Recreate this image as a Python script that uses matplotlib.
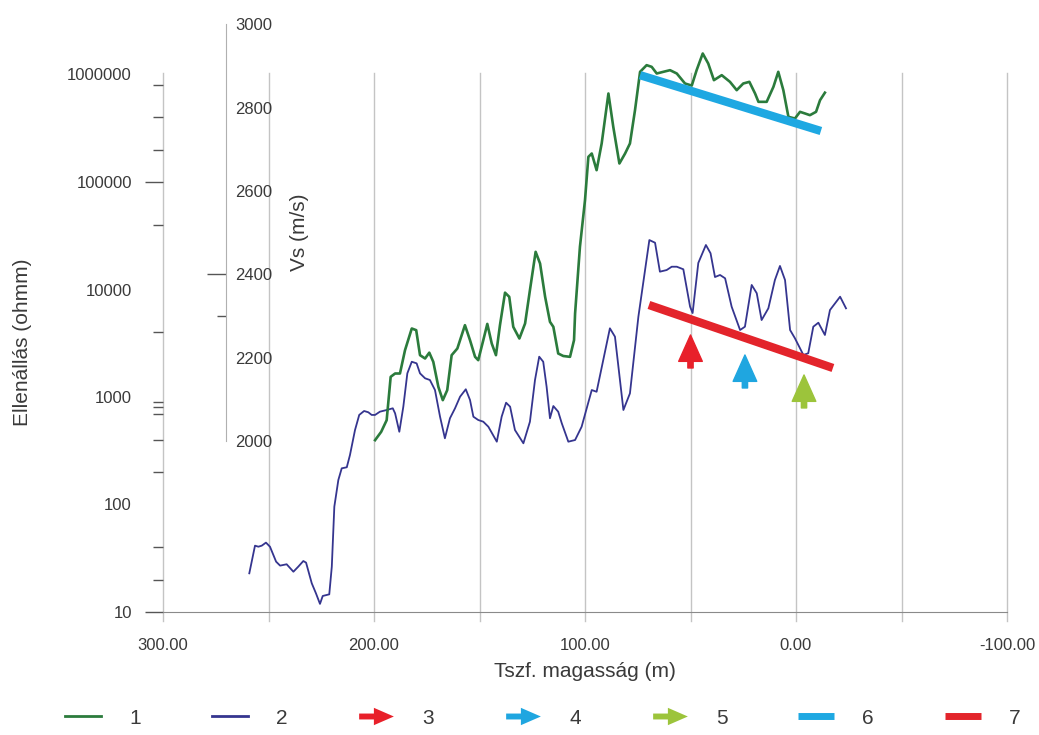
import matplotlib.pyplot as plt
from matplotlib.lines import Line2D
from matplotlib.path import Path
from matplotlib.ticker import NullFormatter

plt.rcParams['font.family'] = ['Liberation Sans', 'DejaVu Sans']
TXT = '#3a3a3a'

# 1: Vs (m/s) vs. elevation
vs_elev = [199.5, 196.6, 194.0, 192.1, 190.0, 187.7, 185.3, 182.1, 180.0, 178.2,
           175.8, 173.8, 171.9, 169.5, 167.4, 165.3, 163.2, 160.5, 156.9, 154.5,
           152.1, 150.6, 148.2, 146.3, 144.2, 142.2, 140.3, 137.9, 135.9, 134.0,
           131.1, 128.4, 126.1, 123.4, 121.3, 118.9, 116.6, 115.0, 112.7, 110.3,
           107.1, 105.2, 104.7, 102.4, 100.0, 98.4, 96.8, 94.5, 92.1, 88.9,
           86.6, 83.7, 81.0, 78.7, 76.3, 73.9, 70.8, 68.4, 66.0, 62.9,
           59.7, 56.5, 52.6, 49.4, 47.1, 44.2, 41.6, 38.9, 35.2, 31.3,
           28.1, 25.0, 22.1, 19.4, 17.8, 13.9, 10.7, 8.4, 6.0, 3.6,
           0.5, -1.9, -4.3, -6.6, -9.5, -11.4, -13.7]
vs_vals = [2002, 2022, 2050, 2154, 2162, 2162, 2218, 2270, 2266, 2206,
           2198, 2212, 2190, 2130, 2098, 2122, 2206, 2222, 2278, 2242,
           2202, 2194, 2242, 2281, 2234, 2206, 2278, 2356, 2346, 2274,
           2246, 2282, 2362, 2454, 2426, 2346, 2286, 2274, 2210, 2204,
           2202, 2242, 2306, 2466, 2578, 2682, 2690, 2650, 2714, 2834,
           2754, 2666, 2690, 2714, 2794, 2886, 2902, 2898, 2882, 2886,
           2890, 2882, 2858, 2853, 2890, 2930, 2906, 2866, 2878, 2862,
           2842, 2858, 2862, 2834, 2814, 2814, 2850, 2886, 2842, 2778,
           2774, 2790, 2786, 2782, 2790, 2818, 2836]

# 2: resistivity (ohmm) vs. elevation
res_elev = [259.1, 256.4, 254.8, 253.2, 251.2, 249.3, 246.4, 244.5, 241.4, 238.2,
            235.9, 233.5, 232.2, 229.5, 227.5, 225.6, 224.3, 221.2, 220.0, 218.8,
            216.9, 215.3, 212.9, 211.4, 209.0, 207.0, 204.7, 202.7, 201.1, 199.5,
            197.2, 194.0, 191.1, 190.0, 188.0, 186.1, 184.2, 182.1, 179.8, 178.2,
            175.8, 173.5, 171.1, 168.7, 166.4, 164.0, 161.6, 159.2, 156.5, 154.5,
            152.9, 150.6, 148.2, 145.8, 141.8, 139.5, 137.4, 135.5, 133.2, 129.2,
            126.1, 123.7, 121.7, 119.8, 118.2, 116.6, 115.0, 112.7, 111.0, 107.9,
            104.7, 101.6, 96.8, 94.5, 88.2, 85.8, 81.8, 78.7, 74.7, 69.5,
            66.8, 64.5, 61.3, 58.9, 56.5, 53.4, 50.2, 49.0, 46.3, 42.7,
            40.5, 38.4, 36.0, 33.6, 30.5, 26.5, 24.2, 21.0, 18.6, 16.3,
            13.1, 10.0, 7.6, 5.2, 2.8, 0.5, -3.5, -5.8, -8.2, -10.6,
            -13.7, -16.1, -20.9, -23.7]
res_vals = [22.9, 41.4, 40.5, 41.4, 44.2, 40.5, 29.4, 27.0, 27.8, 23.7,
            26.4, 29.8, 28.8, 18.5, 14.9, 11.9, 14.1, 14.6, 26.4, 95.5,
            169, 217, 222, 288, 493, 681, 741, 721, 681, 681,
            730, 757, 785, 705, 475, 813, 1660, 2128, 2056, 1660,
            1493, 1439, 1161, 656, 413, 634, 785, 1007, 1180, 938,
            656, 611, 589, 529, 384, 656, 885, 813, 493, 371,
            589, 1439, 2371, 2128, 1247, 634, 824, 730, 569, 384,
            398, 529, 1161, 1119, 4355, 3639, 757, 1081, 5585, 28840,
            27230, 14650, 15170, 16290, 16290, 15420, 6918, 6039, 17660, 25940,
            21730, 13060, 13650, 12710, 6918, 4198, 4508, 11020, 9226, 5200,
            6683, 12250, 16560, 12250, 4198, 3516, 2460, 2552, 4508, 4909,
            3776, 6442, 8570, 6683]

# 3-5: arrows (elevation, tip, base) on the resistivity scale
arrow_elev = [50.0, 24.2, -3.8]
arrow_tip = [3776, 2460, 1603]
arrow_base = [1862, 1213, 791]
arrow_colors = ['#e8202a', '#1fa6e0', '#9cc43b']

# 6: Vs trend, 7: resistivity trend
vs_trend_elev = [73.9, -11.8]
vs_trend_vals = [2878, 2744]
res_trend_elev = [69.7, -17.5]
res_trend_vals = [7178, 1862]

legend_labels = ['1', '2', '3', '4', '5', '6', '7']
x_ticks = [300, 200, 100, 0, -100]
grid_x = [300, 250, 200, 150, 100, 50, 0, -50, -100]
res_ticks = [10, 100, 1000, 10000, 100000, 1000000]
res_minor = [20, 40, 200, 400, 700, 800, 900, 4000, 40000, 200000, 400000, 800000]
vs_ticks = [2000, 2200, 2400, 2600, 2800, 3000]

GREEN = '#2b7b3c'
BLUE = '#35358f'
CYAN = '#1ea8e2'
RED = '#e3242b'

fig = plt.figure(figsize=(10.39, 7.35), dpi=100)
ax = fig.add_axes([163 / 1039, 123 / 735, 844 / 1039, 592 / 735])
ax.set_yscale('log')
ax.set_xlim(300, -100)
ax.set_ylim(10, 10 ** (1 + 592 / 107.5))
ax.patch.set_visible(False)

for gx in grid_x:
    ax.axvline(gx, ymin=-0.015, ymax=539 / 592, color='#c4c4c4', lw=1,
               clip_on=False, zorder=0)

for s in ['top', 'right', 'left']:
    ax.spines[s].set_visible(False)
ax.spines['bottom'].set_color('#8a8a8a')

ax.plot(res_elev, res_vals, color=BLUE, lw=1.3, zorder=3)
ax.plot(res_trend_elev, res_trend_vals, color=RED, lw=6, solid_capstyle='butt', zorder=4)
for x, tip, base, c in zip(arrow_elev, arrow_tip, arrow_base, arrow_colors):
    ax.annotate('', xy=(x, tip), xytext=(x, base),
                arrowprops=dict(arrowstyle='simple,head_length=1.9,head_width=1.7,tail_width=0.38',
                                color=c, mutation_scale=10, shrinkA=0, shrinkB=0),
                zorder=5)

ax.set_xticks(x_ticks)
ax.set_xticklabels([f'{v:.2f}' for v in x_ticks])
ax.tick_params(axis='x', length=0, pad=19, labelsize=12, labelcolor=TXT)
ax.set_yticks(res_ticks)
ax.set_yticklabels([str(v) for v in res_ticks])
ax.set_yticks(res_minor, minor=True)
ax.yaxis.set_minor_formatter(NullFormatter())

ax.set_xlabel('Tszf. magasság (m)', fontsize=15, color=TXT)
ax.xaxis.set_label_coords(0.5, -0.085)
ax.set_ylabel('Ellenállás (ohmm)', fontsize=15, color=TXT)
ax.yaxis.set_label_coords(-0.155, 0.456)

# Vs axis
ax2 = ax.twinx()
ax2.set_ylim(2000 - 171 * 2.4, 2000 + 421 * 2.4)
for s in ['top', 'left', 'bottom']:
    ax2.spines[s].set_visible(False)
ax2.spines['right'].set_position(('data', 270.1))
ax2.spines['right'].set_bounds(2000, 3000)
ax2.spines['right'].set_color('#b0b0b0')
ax2.plot(vs_elev, vs_vals, color=GREEN, lw=1.9, zorder=3)
ax2.plot(vs_trend_elev, vs_trend_vals, color=CYAN, lw=6, solid_capstyle='butt', zorder=4)
ax2.set_yticks(vs_ticks)
ax2.set_yticks([2300], minor=True)
ax2.yaxis.set_minor_formatter(NullFormatter())
ax2.tick_params(axis='y', which='major', direction='in', length=13.7, width=1,
                color='#555555', pad=6.5, labelsize=12, labelcolor=TXT)
ax2.tick_params(axis='y', which='minor', direction='in', length=6.5, width=1,
                color='#555555')
ax2.set_ylabel('Vs (m/s)', fontsize=15, color=TXT)
ax2.yaxis.set_label_coords(0.1505, 0.642)
for t, v in zip(ax2.yaxis.get_major_ticks(), vs_ticks):
    t.tick2line.set_visible(v == 2400)

# left-axis ticks after twinx (twinx resets tick visibility)
ax.tick_params(axis='y', which='major', length=13, width=1, color='#555555',
               pad=9.4, labelsize=12, labelcolor=TXT)
ax.tick_params(axis='y', which='minor', length=7.2, width=1, color='#555555')
for t, v in zip(ax.yaxis.get_major_ticks(), res_ticks):
    t.tick1line.set_visible(v in (10, 100000))

# legend
arrow_path = Path([(-1, -0.17), (-0.15, -0.17), (-0.15, -0.5), (1, 0),
                   (-0.15, 0.5), (-0.15, 0.17), (-1, 0.17), (-1, -0.17)],
                  [Path.MOVETO] + [Path.LINETO] * 6 + [Path.CLOSEPOLY])
handles = [Line2D([], [], color=GREEN, lw=2),
           Line2D([], [], color=BLUE, lw=2)]
for c in arrow_colors:
    handles.append(Line2D([], [], ls='none', marker=arrow_path, markersize=25,
                          markerfacecolor=c, markeredgewidth=0))
handles.append(Line2D([], [], color=CYAN, lw=5, solid_capstyle='butt'))
handles.append(Line2D([], [], color=RED, lw=5, solid_capstyle='butt'))
fig.legend(handles, legend_labels, loc='center', bbox_to_anchor=(0.5226, 0.023),
           ncol=7, frameon=False, fontsize=15, handlelength=1.73, handletextpad=1.35,
           columnspacing=3.4, borderpad=0, borderaxespad=0, labelcolor=TXT)

fig.savefig('out.png', dpi=100)
